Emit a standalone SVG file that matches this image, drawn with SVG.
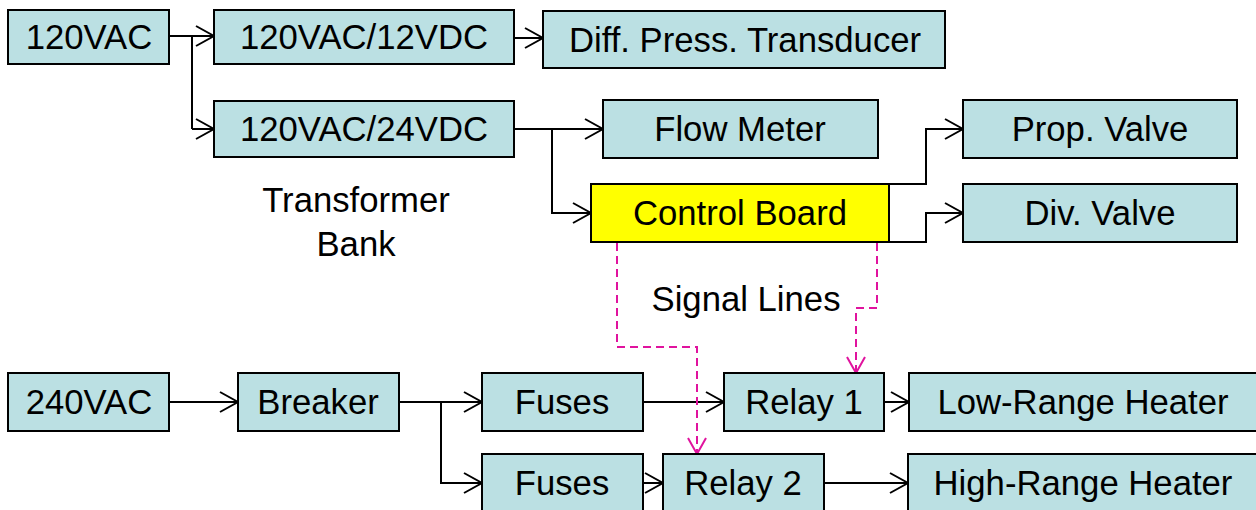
<svg xmlns="http://www.w3.org/2000/svg" width="1256" height="510" viewBox="0 0 1256 510">
<style>
.box{fill:#BBE0E3;stroke:#000;stroke-width:2}
.yel{fill:#FFFF00;stroke:#000;stroke-width:2}
.t{font-family:"Liberation Sans",Arial,sans-serif;font-size:34.7px;fill:#000;text-anchor:middle}
.c{fill:none;stroke:#000;stroke-width:2;marker-end:url(#ah)}
.cn{fill:none;stroke:#000;stroke-width:2}
.s{fill:none;stroke:#E0139E;stroke-width:2;stroke-dasharray:8 5;marker-end:url(#ap)}
</style>
<defs>
<marker id="ah" markerUnits="userSpaceOnUse" viewBox="-20 -12 22 24" refX="0" refY="0" markerWidth="22" markerHeight="24" orient="auto">
<path d="M-18,-10 L0,0 L-18,10" fill="none" stroke="#000" stroke-width="2"/>
</marker>
<marker id="ap" markerUnits="userSpaceOnUse" viewBox="-20 -12 22 24" refX="0" refY="0" markerWidth="22" markerHeight="24" orient="auto">
<path d="M-16,-9 L0,0 L-16,9" fill="none" stroke="#E0139E" stroke-width="2"/>
</marker>
</defs>
<rect width="1256" height="510" fill="#fff"/>
<g id="connectors">
<path class="cn" d="M169,36 H192 V129"/>
<path class="c" d="M169,36 H214"/>
<path class="c" d="M192,129 H214"/>
<path class="c" d="M514,38 H543"/>
<path class="c" d="M514,129 H603"/>
<path class="c" d="M552,129 V213 H591"/>
<path class="c" d="M889,184 H926 V129 H963"/>
<path class="c" d="M889,242 H926 V213 H963"/>
<path class="c" d="M169,402 H238"/>
<path class="c" d="M399,402 H482"/>
<path class="c" d="M441,402 V483 H482"/>
<path class="c" d="M643,402 H724"/>
<path class="c" d="M884,402 H909"/>
<path class="c" d="M643,483 H663"/>
<path class="c" d="M824,483 H908"/>
<path class="s" d="M617,243 V347 H697 V454"/>
<path class="s" d="M877,243 V308 H856 V373"/>
</g>
<g id="n120vac"><rect class="box" x="8" y="10" width="161" height="54"/><text class="t" x="89" y="49">120VAC</text></g>
<g id="n12vdc"><rect class="box" x="214" y="10" width="300" height="54"/><text class="t" x="364" y="49">120VAC/12VDC</text></g>
<g id="ndiff"><rect class="box" x="543" y="11" width="402" height="57"/><text class="t" x="745" y="52">Diff. Press. Transducer</text></g>
<g id="n24vdc"><rect class="box" x="214" y="101" width="300" height="56"/><text class="t" x="364" y="141">120VAC/24VDC</text></g>
<g id="nflow"><rect class="box" x="603" y="100" width="275" height="58"/><text class="t" x="740" y="141">Flow Meter</text></g>
<g id="ncontrol"><rect class="yel" x="591" y="184" width="298" height="58"/><text class="t" x="740" y="225">Control Board</text></g>
<g id="nprop"><rect class="box" x="963" y="100" width="274" height="58"/><text class="t" x="1100" y="141">Prop. Valve</text></g>
<g id="ndiv"><rect class="box" x="963" y="184" width="274" height="58"/><text class="t" x="1100" y="225">Div. Valve</text></g>
<g id="lbank"><text class="t" x="356" y="212">Transformer</text><text class="t" x="356" y="256">Bank</text></g>
<g id="lsignal"><text class="t" x="746" y="311">Signal Lines</text></g>
<g id="n240vac"><rect class="box" x="8" y="373" width="161" height="58"/><text class="t" x="89" y="414">240VAC</text></g>
<g id="nbreaker"><rect class="box" x="238" y="373" width="161" height="58"/><text class="t" x="318" y="414">Breaker</text></g>
<g id="nfuses1"><rect class="box" x="482" y="373" width="161" height="58"/><text class="t" x="562" y="414">Fuses</text></g>
<g id="nrelay1"><rect class="box" x="724" y="373" width="160" height="58"/><text class="t" x="804" y="414">Relay 1</text></g>
<g id="nlow"><rect class="box" x="909" y="373" width="350" height="58"/><text class="t" x="1083" y="414">Low-Range Heater</text></g>
<g id="nfuses2"><rect class="box" x="482" y="454" width="161" height="60"/><text class="t" x="562" y="495">Fuses</text></g>
<g id="nrelay2"><rect class="box" x="663" y="454" width="161" height="60"/><text class="t" x="743" y="495">Relay 2</text></g>
<g id="nhigh"><rect class="box" x="908" y="454" width="351" height="60"/><text class="t" x="1083" y="495">High-Range Heater</text></g>
</svg>
